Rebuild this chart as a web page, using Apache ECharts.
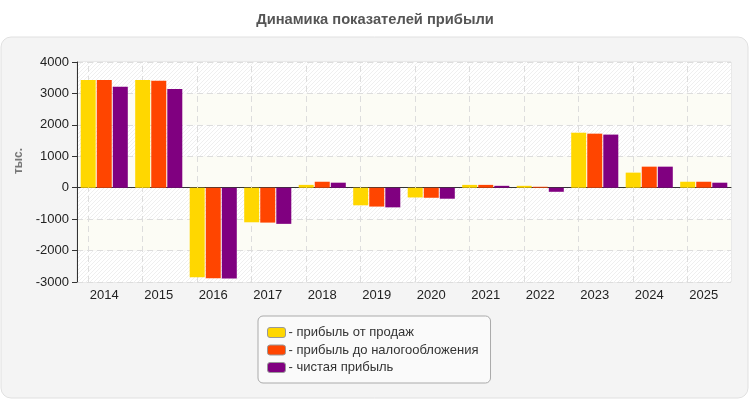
<!DOCTYPE html>
<html>
<head>
<meta charset="utf-8">
<script src="https://cdn.jsdelivr.net/npm/echarts@6/dist/echarts.min.js"></script>
<style>html,body{margin:0;padding:0;background:#fff;}#c{width:750px;height:400px;}</style>
</head>
<body>
<div id="c"></div>
<script>
const categories = ['2014','2015','2016','2017','2018','2019','2020','2021','2022','2023','2024','2025'];
const salesProfit = [3430, 3430, -2850, -1100, 90, -560, -310, 90, 60, 1750, 480, 190];
const preTaxProfit = [3430, 3400, -2880, -1110, 190, -600, -320, 90, 30, 1720, 670, 190];
const netProfit = [3210, 3140, -2890, -1150, 160, -625, -350, 60, -130, 1690, 670, 160];
const seriesNames = ['прибыль от продаж', 'прибыль до налогообложения', 'чистая прибыль'];
const titleText = 'Динамика показателей прибыли';
const unitText = 'тыс.';
const yTicks = {min: -3000, max: 4000, interval: 1000};

const pc = document.createElement('canvas');
pc.width = 8; pc.height = 8;
const g = pc.getContext('2d');
g.fillStyle = '#ffffff'; g.fillRect(0,0,8,8);
g.strokeStyle = '#efefef'; g.lineWidth = 1;
g.beginPath();
[[0,4,4,0],[0,8,8,0],[4,8,8,4]].forEach(l=>{g.moveTo(l[0],l[1]);g.lineTo(l[2],l[3]);});
g.stroke();
const hatch = {image: pc, repeat: 'repeat'};

const chart = echarts.init(document.getElementById('c'));
const font = 'Liberation Sans, Arial, sans-serif';
chart.setOption({
  animation: false,
  textStyle: {fontFamily: font},
  graphic: [
    {type: 'rect', z: -10, shape: {x: 1, y: 37, width: 747, height: 361, r: 10},
      style: {fill: '#f4f4f4', stroke: '#e0e0e0', lineWidth: 1}},
    {type: 'text', x: 375, y: 20, scaleX: 0.98,
      style: {text: titleText, fill: '#555', font: 'bold 15px ' + font, align: 'center', verticalAlign: 'middle'}},
    {type: 'text', x: 19, y: 161, rotation: Math.PI/2,
      style: {text: unitText, fill: '#777', font: 'bold 12px ' + font, align: 'center', verticalAlign: 'middle'}}
  ],
  grid: {left: 77, right: 19, top: 62, bottom: 118, show: true, borderColor: '#dddddd', borderWidth: 1, backgroundColor: 'transparent'},
  legend: {
    orient: 'vertical', left: 258, top: 316,
    backgroundColor: '#fafafa', borderColor: '#aaaaaa', borderWidth: 1, borderRadius: 5,
    padding: [10, 12, 9, 9], itemGap: 4.5, itemWidth: 18, itemHeight: 10,
    icon: 'roundRect',
    itemStyle: {borderColor: '#999', borderWidth: 1},
    formatter: '- {name}',
    textStyle: {fontSize: 13, color: '#333', fontFamily: font, padding: [0,0,0,-2]},
    selectedMode: false
  },
  xAxis: {
    type: 'category', data: categories,
    axisLine: {lineStyle: {color: '#333'}},
    axisTick: {alignWithLabel: true, length: 5, lineStyle: {color: '#333'}},
    axisLabel: {fontSize: 13, color: '#222', margin: 7},
    splitLine: {show: false}
  },
  yAxis: {
    type: 'value', min: yTicks.min, max: yTicks.max, interval: yTicks.interval,
    axisLine: {show: true, lineStyle: {color: '#333'}},
    axisTick: {show: true, length: 5, lineStyle: {color: '#333'}},
    axisLabel: {fontSize: 13, color: '#222', margin: 8, formatter: v => String(v)},
    splitLine: {lineStyle: {color: '#dddddd', type: [6, 4]}},
    splitArea: {show: true, areaStyle: {color: [hatch, '#fcfcf5']}}
  },
  series: [
    {name: seriesNames[0], type: 'bar', data: salesProfit, barWidth: 15, barGap: '7%',
      itemStyle: {color: '#ffd700'},
      markLine: {silent: true, symbol: 'none', z: 1, label: {show: false},
        lineStyle: {color: '#dddddd', type: [6, 4], width: 1},
        data: categories.map(c => ({xAxis: c}))}},
    {name: seriesNames[1], type: 'bar', data: preTaxProfit, barWidth: 15, barGap: '7%',
      itemStyle: {color: '#ff4500'}},
    {name: seriesNames[2], type: 'bar', data: netProfit, barWidth: 15, barGap: '7%',
      itemStyle: {color: '#800080'}}
  ]
});
</script>
</body>
</html>
